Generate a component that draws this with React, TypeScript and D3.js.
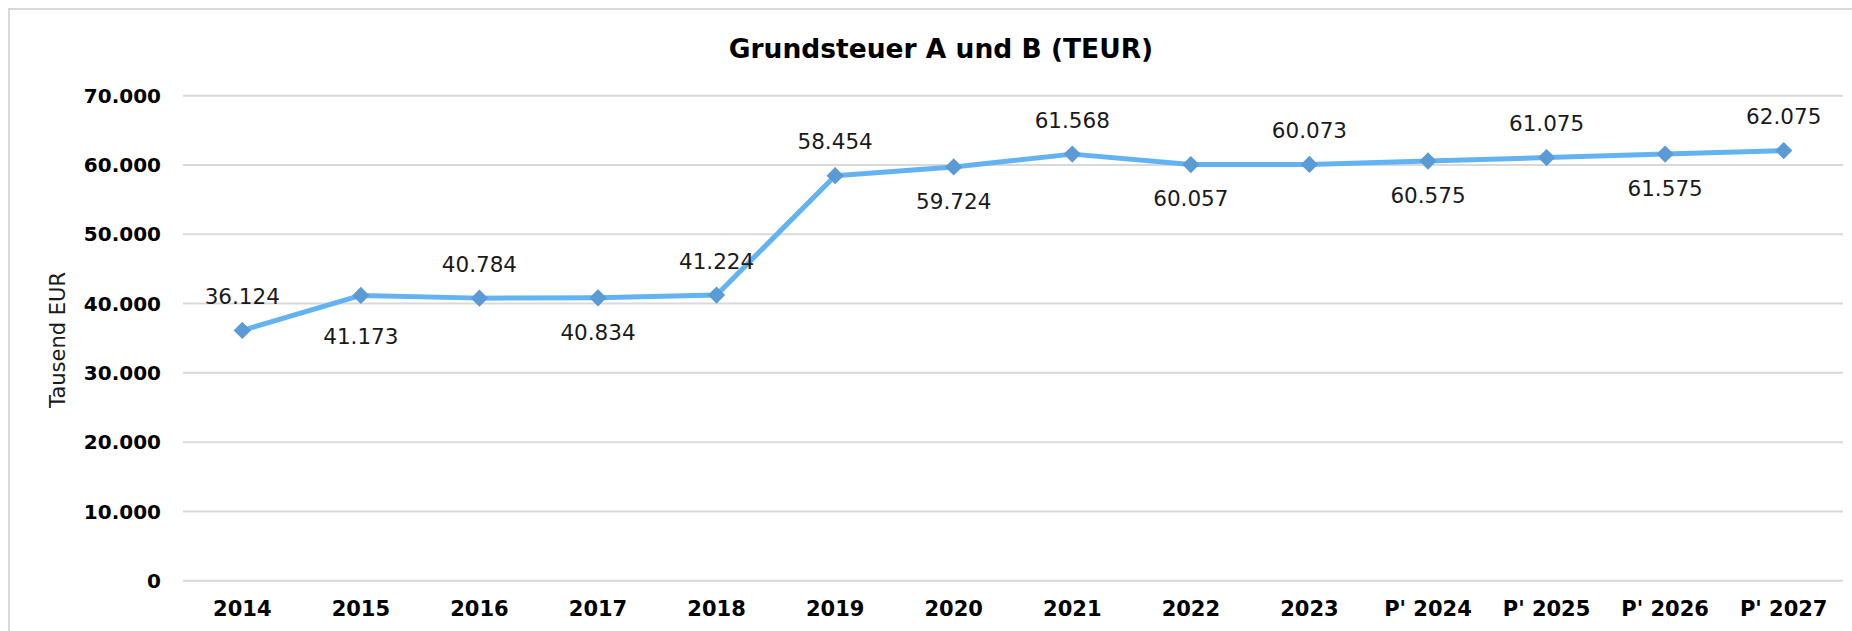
import React from "react";
import * as d3 from "d3";

const categories = ["2014","2015","2016","2017","2018","2019","2020","2021","2022","2023","P' 2024","P' 2025","P' 2026","P' 2027"];
const values = [36124, 41173, 40784, 40834, 41224, 58454, 59724, 61568, 60057, 60073, 60575, 61075, 61575, 62075];
const labelPlacement = ["above","below","above","below","above","above","below","above","below","above","below","above","below","above"];
const yTicks = [0, 10000, 20000, 30000, 40000, 50000, 60000, 70000];
const title = "Grundsteuer A und B (TEUR)";
const yTitle = "Tausend EUR";

const W = 1852, H = 631;
const plot = { left: 183, right: 1843, top: 95.7, bottom: 580.7 };
const labelNudge: Record<string, number> = { "2015": 7 };

const fmt = (v: number) => d3.format(",")(v).replace(/,/g, ".");

export default function App() {
  const x = d3.scaleBand<string>().domain(categories).range([plot.left, plot.right]).padding(0);
  const y = d3.scaleLinear().domain([0, 70000]).range([plot.bottom, plot.top]);
  const cx = (c: string) => (x(c) as number) + x.bandwidth() / 2;
  const line = d3.line<number>().x((_, i) => cx(categories[i])).y((v) => y(v));
  const diamond = d3.symbol().type(d3.symbolDiamond2).size(190)();
  const font = "'DejaVu Sans', Verdana, sans-serif";
  return (
    <svg width={W} height={H} style={{ position: "absolute", left: 0, top: 0, background: "#fff" }} fontFamily={font}>
      <rect x={9} y={9} width={W} height={H} fill="#fff" stroke="#d9d9d9" strokeWidth={2} />
      <text x={941} y={58} textAnchor="middle" fontSize={26.5} fontWeight="bold" fill="#000">{title}</text>
      {yTicks.map((t) => (
        <g key={t}>
          <line x1={plot.left} x2={plot.right} y1={y(t)} y2={y(t)} stroke="#d9d9d9" strokeWidth={2} />
          <text x={161} y={y(t)} dy="0.36em" textAnchor="end" fontSize={20} fontWeight="bold" fill="#000">{fmt(t)}</text>
        </g>
      ))}
      <text transform={`translate(57,340) rotate(-90)`} textAnchor="middle" dy="0.36em" fontSize={21} fill="#1a1a1a">{yTitle}</text>
      {categories.map((c) => (
        <text key={c} x={cx(c)} y={608} dy="0.36em" textAnchor="middle" fontSize={21} fontWeight="bold" fill="#000">{c}</text>
      ))}
      <path d={line(values) || ""} fill="none" stroke="#63b3f2" strokeWidth={5} strokeLinejoin="round" />
      {values.map((v, i) => (
        <path key={i} d={diamond || ""} transform={`translate(${cx(categories[i])},${y(v)})`} fill="#5b9bd5" />
      ))}
      {values.map((v, i) => {
        const c = categories[i];
        const off = labelPlacement[i] === "above" ? -34 : 34 + (labelNudge[c] || 0);
        return (
          <text key={"l" + i} x={cx(c)} y={y(v) + off} dy="0.36em" textAnchor="middle" fontSize={21.5} fill="#1a1a1a">{fmt(v)}</text>
        );
      })}
    </svg>
  );
}
